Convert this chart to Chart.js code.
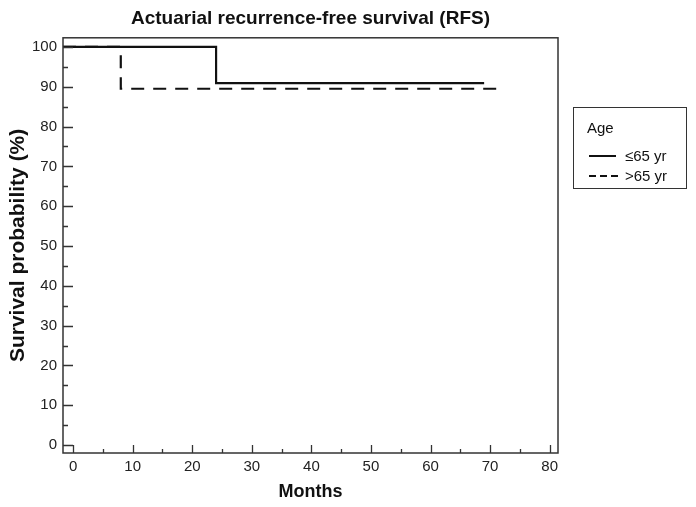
<!DOCTYPE html>
<html>
<head>
<meta charset="utf-8">
<script src="https://cdn.jsdelivr.net/npm/chart.js@4"></script>
<style>
body{margin:0;background:#fff;}
#wrap{position:relative;width:696px;height:507px;}
#legend{position:absolute;left:573px;top:107px;width:112px;height:80px;border:1.5px solid #333;
  font-family:"Liberation Sans",Arial,sans-serif;font-size:15px;color:#111;}
#legend .ttl{position:absolute;left:13px;top:11px;}
#legend .row{position:absolute;left:14px;height:18px;}
#legend svg{position:absolute;left:0;top:0;}
#legend .lbl{position:absolute;left:37px;top:0;white-space:nowrap;}
</style>
</head>
<body>
<div id="wrap">
<canvas id="chart" width="696" height="507"></canvas>
<div id="legend">
  <div class="ttl">Age</div>
  <div class="row" style="top:39px"><svg width="32" height="18"><line x1="1" y1="9" x2="28" y2="9" stroke="#111" stroke-width="2"/></svg><span class="lbl">≤65 yr</span></div>
  <div class="row" style="top:59px"><svg width="32" height="18"><line x1="1" y1="9" x2="30" y2="9" stroke="#111" stroke-width="2" stroke-dasharray="7,4"/></svg><span class="lbl">&gt;65 yr</span></div>
</div>
</div>
<script>
// survival curves
const youngTimes = [0, 24, 69];
const youngSurv = [100, 90.9, 90.9];
const oldTimes = [0, 8, 72];
const oldSurv = [100, 89.5, 89.5];

const xTicks = [0, 10, 20, 30, 40, 50, 60, 70, 80];
const yTicks = [0, 10, 20, 30, 40, 50, 60, 70, 80, 90, 100];

const X_MIN = -1.7, X_MAX = 81.4;
const Y_MIN = -2, Y_MAX = 102.3;

const FONT = '"Liberation Sans", Arial, sans-serif';

function toPoints(times, surv){
    // curves start at the left edge of the frame
    return times.map((t, i) => ({x: i == 0 ? X_MIN : t, y: surv[i]}));
}

// frame round the plot and inward tick marks (major + minor)
const frameTicks = {
    id: 'frameTicks',
    afterDatasetsDraw(chart){
        const ctx = chart.ctx;
        const a = chart.chartArea;
        const x = chart.scales.x, y = chart.scales.y;
        ctx.save();
        ctx.strokeStyle = '#333';
        ctx.lineWidth = 1.5;
        ctx.strokeRect(a.left, a.top, a.right - a.left, a.bottom - a.top);
        ctx.lineWidth = 1.3;
        ctx.beginPath();
        for (var v of xTicks){
            for (var m of [v, v + 5]){
                if (m > xTicks[xTicks.length - 1]) continue;
                var px = Math.round(x.getPixelForValue(m)) + 0.5;
                var len = (m % 10 == 0) ? 8 : 4;
                ctx.moveTo(px, a.bottom);
                ctx.lineTo(px, a.bottom - len);
            }
        }
        for (var v of yTicks){
            for (var m of [v, v + 5]){
                if (m > yTicks[yTicks.length - 1]) continue;
                var py = Math.round(y.getPixelForValue(m)) + 0.5;
                var len = (m % 10 == 0) ? 10 : 5;
                ctx.moveTo(a.left, py);
                ctx.lineTo(a.left + len, py);
            }
        }
        ctx.stroke();
        ctx.restore();
    }
};

const ctx = document.getElementById('chart').getContext('2d');
const chart = new Chart(ctx, {
    type: 'line',
    data: {
        datasets: [
            {
                label: '≤65 yr',
                data: toPoints(youngTimes, youngSurv),
                borderColor: '#111',
                borderWidth: 2.2,
                stepped: true,
                pointRadius: 0,
                fill: false
            },
            {
                label: '>65 yr',
                data: toPoints(oldTimes, oldSurv),
                borderColor: '#111',
                borderWidth: 2.2,
                borderDash: [13, 9],
                stepped: true,
                pointRadius: 0,
                fill: false
            }
        ]
    },
    options: {
        responsive: false,
        animation: false,
        layout: {padding: {left: 4, right: 138, top: 4, bottom: 4}},
        plugins: {
            legend: {display: false},
            tooltip: {enabled: false},
            title: {
                display: true,
                fullSize: false,
                text: 'Actuarial recurrence-free survival (RFS)',
                color: '#111',
                font: {family: FONT, size: 19, weight: 'bold'},
                padding: {top: 3, bottom: 8}
            }
        },
        scales: {
            x: {
                type: 'linear',
                min: X_MIN,
                max: X_MAX,
                afterBuildTicks: s => { s.ticks = xTicks.map(v => ({value: v})); },
                afterFit: s => { s.height = 50; },
                grid: {display: false, drawTicks: false},
                border: {display: false},
                ticks: {color: '#222', font: {family: FONT, size: 15}, padding: 5, maxRotation: 0},
                title: {display: true, text: 'Months', color: '#111',
                        font: {family: FONT, size: 18, weight: 'bold'}, padding: {top: 0, bottom: 0}}
            },
            y: {
                type: 'linear',
                min: Y_MIN,
                max: Y_MAX,
                afterBuildTicks: s => { s.ticks = yTicks.map(v => ({value: v})); },
                afterFit: s => { s.width = 59; },
                grid: {display: false, drawTicks: false},
                border: {display: false},
                ticks: {color: '#222', font: {family: FONT, size: 15}, padding: 6},
                title: {display: true, text: 'Survival probability (%)', color: '#111',
                        font: {family: FONT, size: 21, weight: 'bold'}, padding: {top: 2, bottom: 0}}
            }
        }
    },
    plugins: [frameTicks]
});
</script>
</body>
</html>
